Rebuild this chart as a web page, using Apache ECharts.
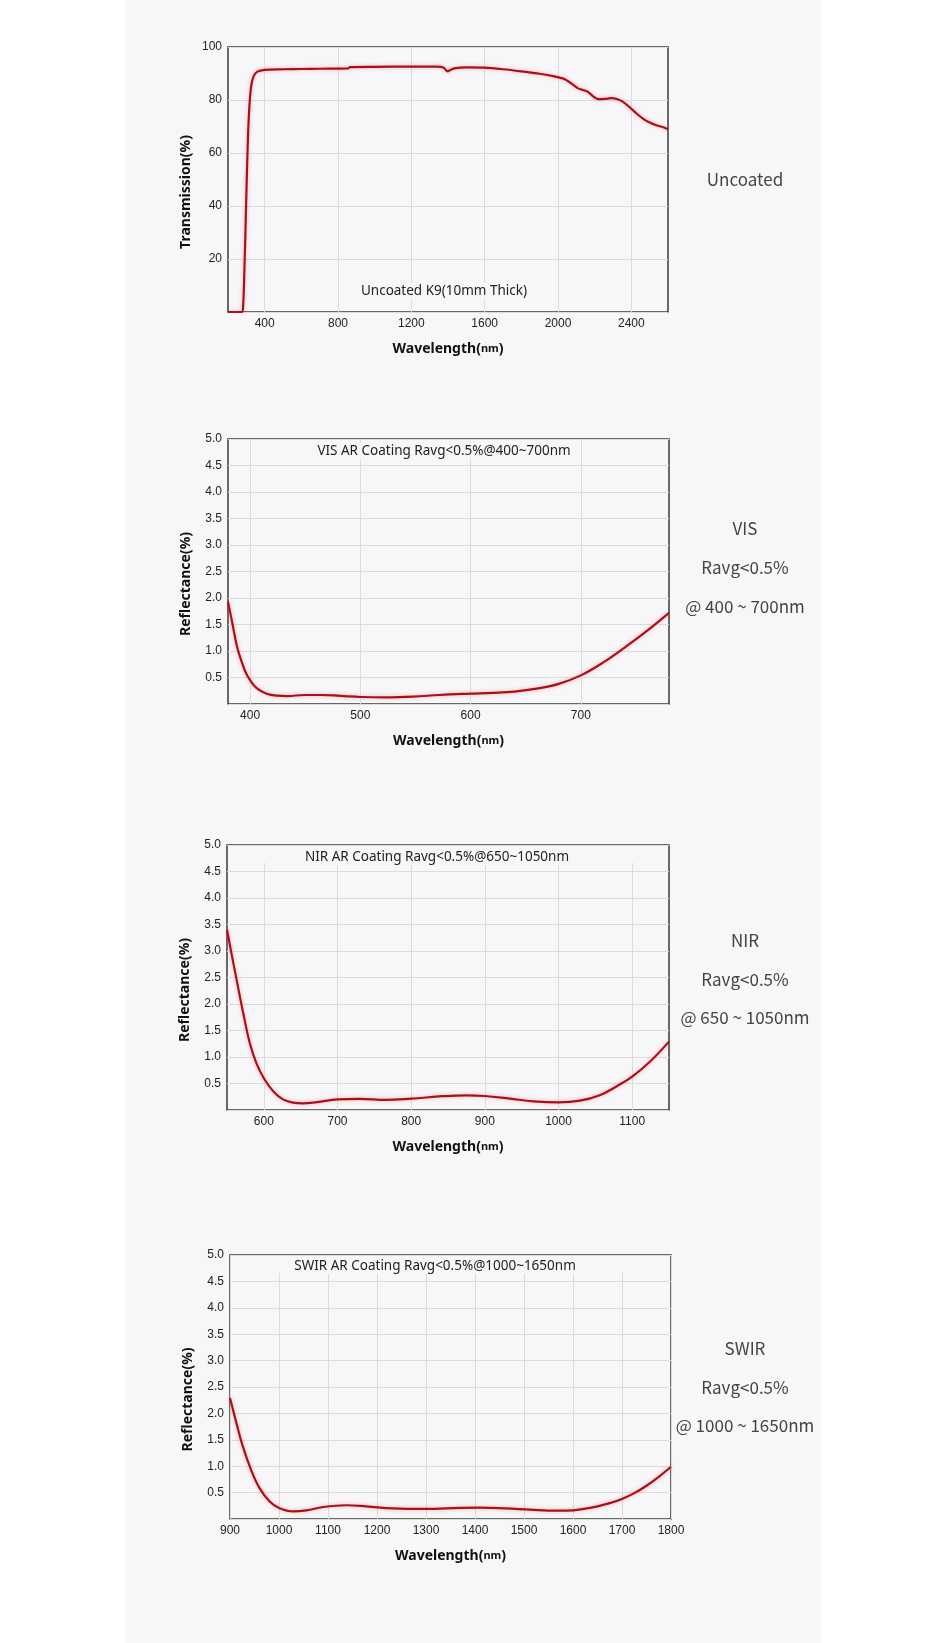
<!DOCTYPE html>
<html>
<head>
<meta charset="utf-8">
<title>K9 coating curves</title>
<script src="https://cdn.jsdelivr.net/npm/echarts@6/dist/echarts.min.js"></script>
<style>
  html, body { margin: 0; padding: 0; background: #fff; }
  #panel { position: absolute; left: 125px; top: 0; width: 696px; height: 1643px; background: #f7f7f9; }
  #main { position: absolute; left: 0; top: 0; width: 946px; height: 1643px; }
</style>
</head>
<body>
<div id="panel"></div>
<div id="main"></div>
<script>
// uncoated K9, transmission (%)
const uncoatedWl = [200, 277, 283, 287, 295, 303, 310, 318, 327, 340, 360, 400, 500, 600, 700, 855, 865, 1000, 1200, 1340, 1375, 1390, 1400, 1415, 1440, 1500, 1600, 1700, 1800, 1900, 1980, 2034, 2070, 2109, 2141, 2165, 2190, 2220, 2255, 2290, 2325, 2355, 2390, 2430, 2465, 2500, 2540, 2570, 2600];
const uncoatedT = [0, 0, 3, 10, 30, 52, 68, 79, 85.5, 89, 90.7, 91.4, 91.6, 91.7, 91.8, 91.9, 92.4, 92.5, 92.6, 92.6, 92.3, 91.2, 90.8, 91.4, 92.0, 92.3, 92.2, 91.6, 90.8, 89.9, 88.9, 87.9, 86.4, 84.4, 83.7, 83.0, 81.5, 80.3, 80.4, 80.7, 80.3, 79.3, 77.3, 74.8, 72.9, 71.5, 70.4, 69.8, 69.0];
const uncoatedTicks = [400, 800, 1200, 1600, 2000, 2400];

// VIS AR coating, reflectance (%)
const visWl = [380, 384, 388, 392, 396, 400, 406, 415, 425, 434, 449, 464, 476, 488, 500, 524, 548, 572, 600, 620, 640, 660, 680, 700, 720, 740, 760, 780];
const visR = [1.93, 1.52, 1.10, 0.82, 0.60, 0.45, 0.30, 0.195, 0.157, 0.15, 0.17, 0.17, 0.164, 0.145, 0.132, 0.126, 0.139, 0.17, 0.195, 0.21, 0.235, 0.29, 0.38, 0.54, 0.78, 1.07, 1.38, 1.72];
const visTicks = [400, 500, 600, 700];

// NIR AR coating, reflectance (%)
const nirWl = [550, 556, 563, 572, 581, 590, 600, 613, 626, 640, 653, 672, 700, 730, 766, 800, 843, 875, 900, 934, 966, 1000, 1029, 1056, 1078, 1100, 1124, 1150];
const nirR = [3.40, 2.96, 2.46, 1.83, 1.26, 0.88, 0.60, 0.35, 0.20, 0.14, 0.126, 0.15, 0.20, 0.21, 0.19, 0.214, 0.26, 0.277, 0.264, 0.214, 0.164, 0.145, 0.176, 0.28, 0.44, 0.63, 0.91, 1.29];
const nirTicks = [600, 700, 800, 900, 1000, 1100];

// SWIR AR coating, reflectance (%)
const swirWl = [900, 913, 926, 943, 960, 981, 1000, 1029, 1056, 1090, 1137, 1178, 1233, 1300, 1369, 1410, 1464, 1512, 1566, 1600, 1625, 1650, 1675, 1700, 1725, 1750, 1775, 1800];
const swirR = [2.29, 1.82, 1.38, 0.93, 0.59, 0.33, 0.21, 0.145, 0.164, 0.227, 0.26, 0.24, 0.20, 0.19, 0.21, 0.215, 0.20, 0.177, 0.158, 0.164, 0.195, 0.24, 0.30, 0.38, 0.49, 0.63, 0.80, 0.99];
const swirTicks = [900, 1000, 1100, 1200, 1300, 1400, 1500, 1600, 1700, 1800];

const PANEL_BG = "#f7f7f9";
const LINE_RED = "#a8111a";

const charts = [
  {
    wl: uncoatedWl, val: uncoatedT, xMin: 200, xMax: 2600, xTicks: uncoatedTicks,
    yMax: 100, yStep: 20, digits: 0, yName: "Transmission(%)", smooth: 0.25,
    grid: { left: 228, top: 47, width: 440, height: 265 },
    note: { text: "Uncoated K9(10mm Thick)", x: 444, y: 291 },
    side: [{ text: "Uncoated", y: 180 }],
  },
  {
    wl: visWl, val: visR, xMin: 380, xMax: 780, xTicks: visTicks,
    yMax: 5, yStep: 0.5, digits: 1, yName: "Reflectance(%)", smooth: 0.4,
    grid: { left: 228, top: 439, width: 441, height: 265 },
    note: { text: "VIS AR Coating Ravg<0.5%@400~700nm", x: 444, y: 451 },
    side: [
      { text: "VIS", y: 529 },
      { text: "Ravg<0.5%", y: 568 },
      { text: "@ 400 ~ 700nm", y: 607 },
    ],
  },
  {
    wl: nirWl, val: nirR, xMin: 550, xMax: 1150, xTicks: nirTicks,
    yMax: 5, yStep: 0.5, digits: 1, yName: "Reflectance(%)", smooth: 0.4,
    grid: { left: 227, top: 845, width: 442, height: 265 },
    note: { text: "NIR AR Coating Ravg<0.5%@650~1050nm", x: 437, y: 857 },
    band: true,
    side: [
      { text: "NIR", y: 941 },
      { text: "Ravg<0.5%", y: 980 },
      { text: "@ 650 ~ 1050nm", y: 1018 },
    ],
  },
  {
    wl: swirWl, val: swirR, xMin: 900, xMax: 1800, xTicks: swirTicks,
    yMax: 5, yStep: 0.5, digits: 1, yName: "Reflectance(%)", smooth: 0.4,
    grid: { left: 230, top: 1255, width: 441, height: 264 },
    note: { text: "SWIR AR Coating Ravg<0.5%@1000~1650nm", x: 435, y: 1266 },
    band: true,
    side: [
      { text: "SWIR", y: 1349 },
      { text: "Ravg<0.5%", y: 1388 },
      { text: "@ 1000 ~ 1650nm", y: 1426 },
    ],
  },
];

const titleFont = "'Noto Sans', 'Open Sans', sans-serif";
const tickFont = "'Liberation Sans', Arial, sans-serif";

const grid = [];
const xAxis = [];
const yAxis = [];
const series = [];
const graphic = [];

charts.forEach((c, i) => {
  grid.push({
    left: c.grid.left, top: c.grid.top, width: c.grid.width, height: c.grid.height,
    show: true, borderColor: "#3a3a3a", borderWidth: 1.5, backgroundColor: "transparent",
  });

  xAxis.push({
    type: "value", gridIndex: i, min: c.xMin, max: c.xMax,
    axisLine: { show: false },
    axisTick: { show: false, customValues: c.xTicks },
    axisLabel: {
      customValues: c.xTicks, color: "#222", fontSize: 12, fontFamily: tickFont, margin: 6,
      formatter: (v) => String(v),
    },
    splitLine: { show: true, lineStyle: { color: "#dcdcdc", width: 1 } },
    name: "{b|Wavelength(}{s|nm}{b|)}",
    nameLocation: "middle",
    nameGap: 30,
    nameTextStyle: {
      rich: {
        b: { fontSize: 14, fontWeight: "bold", fontFamily: titleFont, color: "#111" },
        s: { fontSize: 11, fontWeight: "bold", fontFamily: titleFont, color: "#111" },
      },
    },
  });

  yAxis.push({
    type: "value", gridIndex: i, min: 0, max: c.yMax, interval: c.yStep,
    axisLine: { show: false },
    axisTick: { show: false },
    axisLabel: {
      color: "#222", fontSize: 12, fontFamily: tickFont, margin: 6,
      formatter: (v) => (v === 0 ? "" : v.toFixed(c.digits)),
    },
    splitLine: { show: true, lineStyle: { color: "#dcdcdc", width: 1 } },
    name: c.yName,
    nameLocation: "middle",
    nameGap: 35,
    nameTextStyle: {
      fontSize: 14, fontWeight: "bold", fontFamily: titleFont, color: "#111",
      padding: [0, 25, 0, 0],
    },
  });

  series.push({
    type: "line", xAxisIndex: i, yAxisIndex: i,
    data: c.wl.map((w, k) => [w, c.val[k]]),
    showSymbol: false, smooth: c.smooth, clip: true,
    lineStyle: { color: LINE_RED, width: 2.2, shadowColor: "rgba(230,60,60,0.4)", shadowBlur: 4 },
    silent: true,
  });

  if (c.band) {
    graphic.push({
      type: "rect", z: 1,
      shape: { x: c.grid.left + 1, y: c.grid.top + 1, width: c.grid.width - 2, height: 17 },
      style: { fill: PANEL_BG },
    });
  }

  graphic.push({
    type: "text", z: 3,
    style: {
      text: c.note.text, x: c.note.x, y: c.note.y,
      align: "center", verticalAlign: "middle",
      fontSize: 13.5, fontFamily: titleFont, fill: "#222",
      backgroundColor: PANEL_BG, padding: [1, 3],
    },
  });

  c.side.forEach((s) => {
    graphic.push({
      type: "text", z: 3,
      style: {
        text: s.text, x: 745, y: s.y,
        align: "center", verticalAlign: "middle",
        fontSize: 17, fontFamily: "'Noto Sans CJK SC', 'Noto Sans', sans-serif", fill: "#444",
      },
    });
  });
});

const chart = echarts.init(document.getElementById("main"), null, { renderer: "canvas" });
chart.setOption({
  backgroundColor: "transparent",
  animation: false,
  grid,
  xAxis,
  yAxis,
  series,
  graphic,
});
</script>
</body>
</html>
